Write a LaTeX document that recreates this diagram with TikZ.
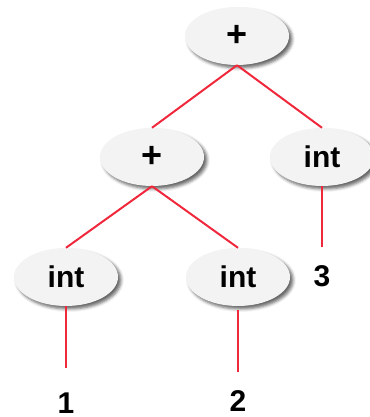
\documentclass[tikz,border=0pt]{standalone}
\usepackage{fontspec}
\setmainfont{Liberation Sans}
\usetikzlibrary{shapes.geometric,shadows.blur}
\definecolor{edgered}{RGB}{240,40,60}
\definecolor{nodefill}{RGB}{243,243,243}
\tikzset{
  tnode/.style={ellipse, fill=nodefill, minimum width=104pt, minimum height=58pt, inner sep=0pt,
    font=\fontsize{30}{30}\selectfont\bfseries,
    blur shadow={shadow xshift=3pt, shadow yshift=-3pt, shadow blur radius=3pt, shadow opacity=60}},
  opnode/.style={tnode, font=\fontsize{36}{36}\selectfont\bfseries},
  leaf/.style={inner sep=0pt, font=\fontsize{30}{30}\selectfont\bfseries, text height=21.5pt, text depth=0pt},
  edge/.style={draw=edgered, line width=2pt},
}
\begin{document}
\begin{tikzpicture}[x=1pt,y=1pt]
\useasboundingbox (0,0) rectangle (369,417);
\node[opnode] (root) at (237,381) {+};
\node[opnode] (plus) at (152,260) {+};
\node[tnode] (intR) at (322,260) {int};
\node[tnode] (intL) at (66,140) {int};
\node[tnode] (intM) at (238,140) {int};
\node[leaf] (n3) at (322,141) {3};
\node[leaf] (n1) at (66,14) {1};
\node[leaf] (n2) at (238,16) {2};
\path[edge] (root.south) -- (plus.north);
\path[edge] (root.south) -- (intR.north);
\path[edge] (plus.south) -- (intL.north);
\path[edge] (plus.south) -- (intM.north);
\path[edge, shorten >=18pt] (intR.south) -- (n3.north);
\path[edge, shorten >=24pt] (intL.south) -- (n1.north);
\path[edge, shorten <=4pt, shorten >=18pt] (intM.south) -- (n2.north);
\end{tikzpicture}
\end{document}
